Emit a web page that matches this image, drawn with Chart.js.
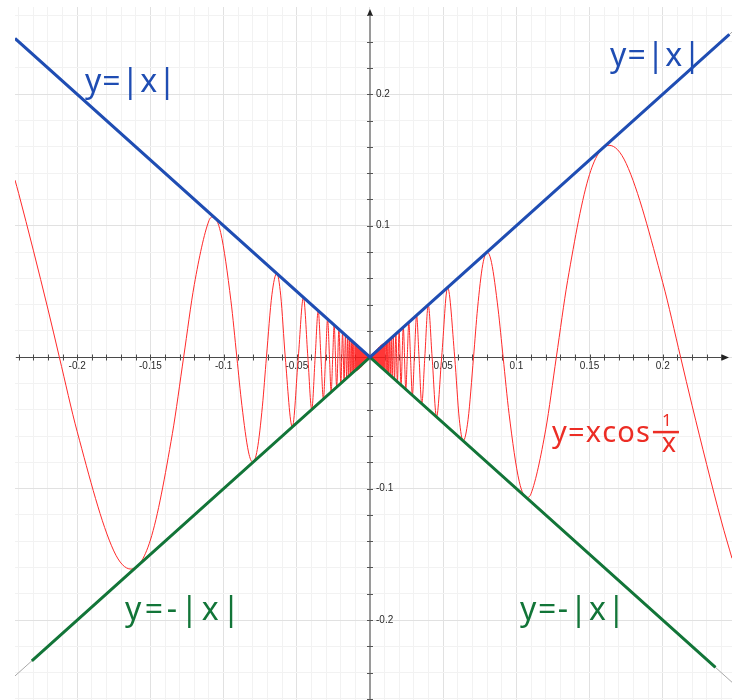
<!DOCTYPE html>
<html>
<head>
<meta charset="utf-8">
<title>y = x cos(1/x)</title>
<script src="https://cdn.jsdelivr.net/npm/chart.js@4.4.1/dist/chart.umd.min.js"></script>
<style>
  html, body { margin: 0; padding: 0; background: #ffffff; }
  #plot { display: block; }
</style>
</head>
<body>
<canvas id="plot" width="732" height="700"></canvas>
<script>
/* global Chart */

// y = x cos(1/x), squeezed between y = |x| and y = -|x|.
// Points on the curve: ends, extremes (where it touches the envelope), zero crossings.
const curveX = [
  -0.2425, -0.24, -0.22, -0.2122, -0.2, -0.175, -0.1633, -0.15, -0.135, -0.1273,
  -0.12, -0.11, -0.1073, -0.102, -0.095, -0.09095, -0.0875, -0.083, -0.0801, -0.077,
  -0.0735, -0.07074, -0.067, -0.06366, -0.061, -0.05787, -0.05305, -0.04897, -0.04547, -0.04244,
  -0.03979, -0.03745, -0.03537, -0.03351, -0.03183, -0.03032, -0.02894, -0.02768, -0.02653, -0.02546,
  -0.02449, -0.02274, -0.02122, -0.01989, -0.01872, -0.01768, -0.01675, -0.01592, -0.01516, -0.01447,
  -0.01384, -0.01326, -0.01273, -0.01224, -0.01179, -0.01137, -0.01098, -0.01061,
  0,
  0.01061, 0.01098, 0.01137, 0.01179, 0.01224, 0.01273, 0.01326, 0.01384, 0.01447, 0.01516,
  0.01592, 0.01675, 0.01768, 0.01872, 0.01989, 0.02122, 0.02274, 0.02449, 0.02546, 0.02653,
  0.02768, 0.02894, 0.03032, 0.03183, 0.03351, 0.03537, 0.03745, 0.03979, 0.04244, 0.04547,
  0.04897, 0.05305, 0.05787, 0.061, 0.06366, 0.067, 0.07074, 0.0735, 0.077, 0.0801,
  0.083, 0.0875, 0.09095, 0.095, 0.102, 0.1073, 0.11, 0.12, 0.1273, 0.135,
  0.15, 0.1633, 0.175, 0.2, 0.2122, 0.22, 0.24, 0.2473,
];
const curveY = [
  0.1347, 0.1246, 0.0366, 0, -0.0567, -0.1474, -0.1612, -0.1391, -0.0582, 0,
  0.0553, 0.1039, 0.1067, 0.0948, 0.043, 0, -0.0367, -0.0721, -0.0798, -0.0703,
  -0.0373, 0, 0.0475, 0.06366, 0.0472, 0, -0.05305, 0, 0.04547, 0,
  -0.03979, 0, 0.03537, 0, -0.03183, 0, 0.02894, 0, -0.02653, 0,
  0.02449, -0.02274, 0.02122, -0.01989, 0.01872, -0.01768, 0.01675, -0.01592, 0.01516, -0.01447,
  0.01384, -0.01326, 0.01273, -0.01224, 0.01179, -0.01137, 0.01098, -0.01061,
  0,
  0.01061, -0.01098, 0.01137, -0.01179, 0.01224, -0.01273, 0.01326, -0.01384, 0.01447, -0.01516,
  0.01592, -0.01675, 0.01768, -0.01872, 0.01989, -0.02122, 0.02274, -0.02449, 0, 0.02653,
  0, -0.02894, 0, 0.03183, 0, -0.03537, 0, 0.03979, 0, -0.04547,
  0, 0.05305, 0, -0.0472, -0.06366, -0.0475, 0, 0.0373, 0.0703, 0.0798,
  0.0721, 0.0367, 0, -0.043, -0.0948, -0.1067, -0.1039, -0.0553, 0, 0.0582,
  0.1391, 0.1612, 0.1474, 0.0567, 0, -0.0366, -0.1246, -0.153,
];

// Near the origin the oscillations merge into a solid red wedge.
const wedgeX = [-0.01061, 0, 0.01061];
const wedgeTop = [0.01061, 0, 0.01061];
const wedgeBottom = [-0.01061, 0, -0.01061];

// Thin grey envelope y = ±|x| over the whole window.
const envelopeX = [-0.2425, 0, 0.2473];
const envelopeTop = [0.2425, 0, 0.2473];
const envelopeBottom = [-0.2425, 0, -0.2473];

// Hand-drawn strokes on top of the envelope.
const blueX = [-0.2425, 0, 0.2455];
const blueY = [0.2425, 0, 0.2455];
const greenX = [-0.231, 0, 0.236];
const greenY = [-0.231, 0, -0.236];

const xTickLabels = [-0.2, -0.15, -0.1, -0.05, 0.05, 0.1, 0.15, 0.2];
const yTickLabels = [-0.2, -0.1, 0.1, 0.2];

const X_MIN = -0.2425;
const X_MAX = 0.2473;
const Y_MIN = -0.2608;
const Y_MAX = 0.2664;

const BLUE = "#1f4db3";
const GREEN = "#127538";
const RED = "#ff2a2a";
const RED_INK = "#ec2d25";
const INK_FONT = '"Noto Sans", "DejaVu Sans", sans-serif';

const handLabels = [
  { text: "y=|x|", x: -0.1947, y: 0.2014, width: 83, color: BLUE },
  { text: "y=|x|", x: 0.164, y: 0.2215, width: 75, color: BLUE },
  { text: "y=-|x|", x: -0.1674, y: -0.2002, width: 115, color: GREEN },
  { text: "y=-|x|", x: 0.1025, y: -0.2002, width: 105, color: GREEN },
];

function points(xs, ys) {
  return xs.map((x, i) => ({ x, y: ys[i] }));
}

function isMultiple(value, step) {
  const r = value / step;
  return Math.abs(r - Math.round(r)) < 1e-6;
}

function gridColor(majorStep) {
  return (ctx) => {
    const value = ctx.tick ? ctx.tick.value : 0;
    return isMultiple(value, majorStep) ? "#e1e1e1" : "#f2f2f2";
  };
}

// Spread characters to a fixed width, the way the ink labels are spaced.
function drawSpaced(ctx, text, left, baseline, width) {
  const chars = [...text];
  const widths = chars.map((c) => ctx.measureText(c).width);
  const total = widths.reduce((a, b) => a + b, 0);
  const gap = chars.length > 1 ? Math.max(1, (width - total) / (chars.length - 1)) : 0;
  let cx = left;
  chars.forEach((c, i) => {
    ctx.fillText(c, cx, baseline);
    cx += widths[i] + gap;
  });
  return cx - gap;
}

const originAxes = {
  id: "originAxes",
  beforeDatasetsDraw(chart) {
    const { ctx, chartArea, scales } = chart;
    const xs = scales.x;
    const ys = scales.y;
    const x0 = Math.round(xs.getPixelForValue(0));
    const y0 = Math.round(ys.getPixelForValue(0)) + 0.5;

    ctx.save();

    // vertical axis
    ctx.strokeStyle = "#9a9a9a";
    ctx.lineWidth = 2;
    ctx.beginPath();
    ctx.moveTo(x0, chartArea.top + 6);
    ctx.lineTo(x0, chartArea.bottom);
    ctx.stroke();

    ctx.fillStyle = "#222";
    ctx.beginPath();
    ctx.moveTo(x0, chartArea.top + 2);
    ctx.lineTo(x0 - 3, chartArea.top + 9);
    ctx.lineTo(x0 + 3, chartArea.top + 9);
    ctx.closePath();
    ctx.fill();

    ctx.strokeStyle = "#555";
    ctx.lineWidth = 1;
    ys.ticks.forEach((t) => {
      if (t.value === 0) return;
      const py = Math.round(ys.getPixelForValue(t.value)) + 0.5;
      ctx.beginPath();
      ctx.moveTo(x0 - 3, py);
      ctx.lineTo(x0 + 3, py);
      ctx.stroke();
    });

    // horizontal axis
    ctx.strokeStyle = "#4a4a4a";
    ctx.lineWidth = 1;
    ctx.beginPath();
    ctx.moveTo(chartArea.left + 1, y0);
    ctx.lineTo(chartArea.right - 5, y0);
    ctx.stroke();

    ctx.fillStyle = "#222";
    ctx.beginPath();
    ctx.moveTo(chartArea.right - 3, y0);
    ctx.lineTo(chartArea.right - 10, y0 - 3);
    ctx.lineTo(chartArea.right - 10, y0 + 3);
    ctx.closePath();
    ctx.fill();

    xs.ticks.forEach((t) => {
      if (t.value === 0) return;
      const px = Math.round(xs.getPixelForValue(t.value)) + 0.5;
      ctx.beginPath();
      ctx.moveTo(px, y0 - 3);
      ctx.lineTo(px, y0 + 3);
      ctx.stroke();
    });

    // tick labels
    ctx.font = '10px "Liberation Sans", Arial, sans-serif';
    ctx.fillStyle = "#2a2a2a";
    ctx.textAlign = "center";
    ctx.textBaseline = "middle";
    xTickLabels.forEach((v) => {
      ctx.fillText(String(v), xs.getPixelForValue(v), y0 + 9);
    });
    ctx.textAlign = "left";
    yTickLabels.forEach((v) => {
      ctx.fillText(String(v), x0 + 6, ys.getPixelForValue(v));
    });

    ctx.restore();
  },
  afterDatasetsDraw(chart) {
    const { ctx, scales } = chart;
    ctx.save();
    ctx.textAlign = "left";
    ctx.textBaseline = "alphabetic";
    ctx.font = "32px " + INK_FONT;

    handLabels.forEach((label) => {
      ctx.fillStyle = label.color;
      drawSpaced(
        ctx,
        label.text,
        scales.x.getPixelForValue(label.x),
        scales.y.getPixelForValue(label.y),
        label.width
      );
    });

    // y = x cos(1/x), with the 1/x written as a small stacked fraction
    const left = scales.x.getPixelForValue(0.1243);
    const base = scales.y.getPixelForValue(-0.0646);
    ctx.fillStyle = RED_INK;
    ctx.strokeStyle = RED_INK;
    ctx.font = "29px " + INK_FONT;
    const end = drawSpaced(ctx, "y=xcos", left, base, 98);
    ctx.textAlign = "center";
    ctx.font = "17px " + INK_FONT;
    ctx.fillText("1", end + 17, base - 16);
    ctx.lineWidth = 2.5;
    ctx.beginPath();
    ctx.moveTo(end + 3, base - 10);
    ctx.lineTo(end + 29, base - 10);
    ctx.stroke();
    ctx.font = "27px " + INK_FONT;
    ctx.fillText("x", end + 19, base + 10);

    ctx.restore();
  },
};

function series(xs, ys, extra) {
  return Object.assign(
    { data: points(xs, ys), pointRadius: 0, fill: false, tension: 0 },
    extra
  );
}

new Chart(document.getElementById("plot"), {
  type: "line",
  data: {
    datasets: [
      series(blueX, blueY, { borderColor: BLUE, borderWidth: 3 }),
      series(greenX, greenY, { borderColor: GREEN, borderWidth: 3 }),
      series(curveX, curveY, {
        borderColor: RED,
        borderWidth: 1,
        cubicInterpolationMode: "monotone",
      }),
      series(wedgeX, wedgeTop, {
        borderColor: "rgba(0,0,0,0)",
        backgroundColor: "rgba(255,20,20,0.85)",
        fill: "+1",
      }),
      series(wedgeX, wedgeBottom, { borderColor: "rgba(0,0,0,0)" }),
      series(envelopeX, envelopeTop, { borderColor: "#a9a9a9", borderWidth: 1 }),
      series(envelopeX, envelopeBottom, { borderColor: "#a9a9a9", borderWidth: 1 }),
    ],
  },
  options: {
    responsive: false,
    animation: false,
    events: [],
    layout: { padding: { left: 15, top: 7, right: 0, bottom: 0 } },
    plugins: {
      legend: { display: false },
      tooltip: { enabled: false },
    },
    scales: {
      x: {
        type: "linear",
        min: X_MIN,
        max: X_MAX,
        ticks: { display: false, stepSize: 0.01, includeBounds: false },
        grid: { color: gridColor(0.05), drawTicks: false },
        border: { display: false },
      },
      y: {
        type: "linear",
        min: Y_MIN,
        max: Y_MAX,
        ticks: { display: false, stepSize: 0.02, includeBounds: false },
        grid: { color: gridColor(0.1), drawTicks: false },
        border: { display: false },
      },
    },
  },
  plugins: [originAxes],
});
</script>
</body>
</html>
